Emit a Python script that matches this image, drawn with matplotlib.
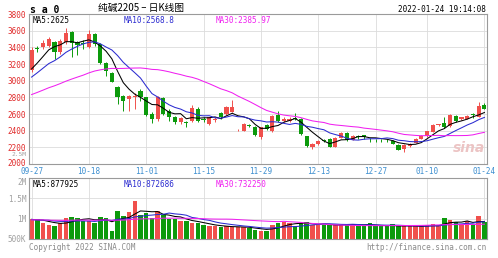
import numpy as np
import pandas as pd
import matplotlib
matplotlib.use("Agg")
import matplotlib.pyplot as plt
from matplotlib.transforms import ScaledTranslation

# daily candles 2021-09-27 .. 2022-01-24
opens = [3130, 3395, 3400, 3420, 3460, 3340, 3460, 3580, 3470, 3450,
         3410, 3560, 3440, 3210, 3090, 2930, 2820, 2785, 2800, 2880,
         2800, 2600, 2545, 2790, 2640, 2560, 2500, 2505, 2520, 2665,
         2540, 2480, 2530, 2610, 2605, 2630, 2405, 2400, 2465, 2445,
         2320, 2470, 2400, 2590, 2520, 2520, 2550, 2545, 2335, 2205,
         2240, 2290, 2302, 2205, 2315, 2375, 2290, 2340, 2345, 2300,
         2290, 2300, 2290, 2280, 2230, 2180, 2215, 2257, 2305, 2338,
         2390, 2465, 2487, 2451, 2580, 2540, 2545, 2600, 2568, 2713]
closes = [3370, 3380, 3450, 3500, 3340, 3480, 3570, 3450, 3430, 3440,
          3560, 3440, 3210, 3115, 2990, 2810, 2755, 2820, 2815, 2800,
          2590, 2545, 2800, 2605, 2560, 2500, 2555, 2495, 2675, 2520,
          2525, 2560, 2545, 2570, 2690, 2680, 2410, 2480, 2455, 2350,
          2440, 2420, 2580, 2520, 2545, 2545, 2540, 2360, 2215, 2245,
          2278, 2280, 2205, 2318, 2367, 2290, 2340, 2330, 2320, 2295,
          2285, 2295, 2288, 2240, 2170, 2230, 2240, 2305, 2340, 2398,
          2471, 2475, 2440, 2592, 2520, 2560, 2580, 2585, 2700, 2665]
highs = [3400, 3420, 3490, 3520, 3480, 3500, 3630, 3600, 3480, 3490,
         3610, 3570, 3450, 3230, 3100, 2940, 2830, 2830, 2850, 2900,
         2810, 2620, 2820, 2800, 2660, 2580, 2570, 2520, 2710, 2680,
         2570, 2570, 2570, 2620, 2700, 2770, 2420, 2490, 2480, 2455,
         2450, 2480, 2590, 2640, 2560, 2570, 2610, 2550, 2340, 2255,
         2290, 2300, 2310, 2325, 2380, 2385, 2350, 2350, 2350, 2310,
         2300, 2305, 2300, 2285, 2235, 2235, 2250, 2310, 2345, 2400,
         2480, 2485, 2570, 2600, 2590, 2570, 2590, 2610, 2740, 2730]
lows = [3100, 3350, 3380, 3400, 3260, 3320, 3440, 3290, 3310, 3380,
        3390, 3420, 3200, 3060, 2980, 2720, 2640, 2640, 2660, 2760,
        2580, 2490, 2520, 2590, 2520, 2480, 2480, 2450, 2510, 2500,
        2500, 2470, 2510, 2540, 2590, 2620, 2400, 2395, 2440, 2340,
        2300, 2410, 2390, 2510, 2500, 2505, 2530, 2350, 2210, 2180,
        2230, 2270, 2200, 2200, 2310, 2280, 2285, 2300, 2300, 2270,
        2260, 2270, 2270, 2235, 2165, 2150, 2210, 2250, 2300, 2330,
        2385, 2455, 2435, 2445, 2510, 2530, 2540, 2555, 2560, 2655]
volumes = [984000, 984000, 886000, 844000, 820000, 886000, 1024000, 1048000, 1016000, 950000,
           950000, 900000, 1048000, 1024000, 704000, 1188000, 1065000, 1164000, 1442000, 1090000,
           1147000, 1008000, 1188000, 1090000, 1000000, 984000, 950000, 950000, 886000, 886000,
           844000, 810000, 810000, 795000, 820000, 787000, 787000, 787000, 763000, 721000,
           704000, 704000, 844000, 900000, 925000, 900000, 810000, 900000, 925000, 844000,
           844000, 844000, 844000, 844000, 844000, 869000, 869000, 830000, 830000, 886000,
           810000, 810000, 810000, 860000, 810000, 810000, 810000, 810000, 810000, 844000,
           860000, 810000, 1024000, 967000, 908000, 869000, 950000, 844000, 1065000, 925000]

# closes / volumes before 09-27, only used to start the moving averages
pre_closes = [2600, 2620, 2650, 2640, 2680, 2700, 2690, 2720, 2750, 2740,
              2770, 2780, 2790, 2800, 2850, 2720, 2740, 2760, 2770, 2790,
              2860, 2900, 2950, 2990, 3030, 3020, 3060, 3100, 3150]
pre_volumes = [920000, 980000, 1010000, 890000, 950000, 1050000, 930000, 870000, 990000, 1020000,
               960000, 900000, 940000, 1000000, 1080000, 970000, 910000, 1030000, 950000, 990000,
               1060000, 920000, 880000, 1010000, 970000, 1040000, 930000, 1000000, 960000]

date_idx = [0, 10, 20, 30, 40, 50, 60, 69, 79]
date_labels = ["09-27", "10-18", "11-01", "11-15", "11-29", "12-13", "12-27", "01-10", "01-24"]
price_ticks = [2000, 2200, 2400, 2600, 2800, 3000, 3200, 3400, 3600, 3800]
vol_ticks = [500000, 1000000, 1500000, 2000000]
vol_tick_labels = ["500K", "1M", "1.5M", "2M"]

RED = "#f0504c"
GREEN = "#0c9a0c"
MA_COLORS = {5: "#000000", 10: "#2b2bd0", 30: "#f020f0"}
MONO = "DejaVu Sans Mono"
FS = 5.5

n = len(closes)
x = np.arange(n)
close_s = pd.Series(pre_closes + closes)
vol_s = pd.Series(pre_volumes + volumes)
k = len(pre_closes)

fig = plt.figure(figsize=(4.98, 2.58), dpi=100)
W, H = 498.0, 258.0
ax_p = fig.add_axes([29 / W, 1 - 164 / H, 458 / W, 150 / H])
ax_v = fig.add_axes([29 / W, 1 - 239 / H, 458 / W, 61 / H])


def nudge(label, dy_pt):
    label.set_transform(label.get_transform() + ScaledTranslation(0, dy_pt / 72, fig.dpi_scale_trans))


for ax in (ax_p, ax_v):
    ax.set_xlim(-0.45, n - 0.55)
    for s in ax.spines.values():
        s.set_color("#9a9a9a")
        s.set_linewidth(0.8)
    ax.tick_params(length=0, pad=2)
    for i in date_idx:
        ax.axvline(i, color="#dcdcdc", lw=0.6, zorder=0)

# price panel
for p in price_ticks:
    ax_p.axhline(p, color="#dcdcdc", lw=0.6, zorder=0)
for i in range(n):
    up = closes[i] >= opens[i]
    c = RED if up else GREEN
    ax_p.vlines(x[i], lows[i], highs[i], color=c, lw=0.7, zorder=2)
    lo, hi = min(opens[i], closes[i]), max(opens[i], closes[i])
    ax_p.bar(x[i], max(hi - lo, 6), bottom=lo, width=0.72, color=c, zorder=3, linewidth=0)
for m, col in MA_COLORS.items():
    ma = close_s.rolling(m).mean().values[k:]
    ax_p.plot(x, ma, color=col, lw=0.75, zorder=4)

ax_p.set_ylim(2000, 3800)
ax_p.set_yticks(price_ticks)
ax_p.set_yticklabels([str(p) for p in price_ticks], color="#e02828", fontsize=FS, family=MONO)
nudge(ax_p.get_yticklabels()[0], 1.0)
ax_p.set_xticks(date_idx)
ax_p.set_xticklabels(date_labels, color="#3d8fd0", fontsize=FS, family=MONO)
ax_p.tick_params(axis="x", pad=2.5)
ax_p.text(0.008, 0.985, "MA5:2625", transform=ax_p.transAxes, fontsize=FS, family=MONO,
          color=MA_COLORS[5], va="top")
ax_p.text(0.207, 0.985, "MA10:2568.8", transform=ax_p.transAxes, fontsize=FS, family=MONO,
          color=MA_COLORS[10], va="top")
ax_p.text(0.408, 0.985, "MA30:2385.97", transform=ax_p.transAxes, fontsize=FS, family=MONO,
          color=MA_COLORS[30], va="top")
ax_p.text(0.995, 0.06, "sina", transform=ax_p.transAxes, fontsize=10, style="italic",
          weight="bold", color="#ecc4c4", ha="right", va="bottom", zorder=1)

# volume panel
vol_cols = [RED if closes[i] >= opens[i] else GREEN for i in range(n)]
for v in vol_ticks:
    ax_v.axhline(v, color="#dcdcdc", lw=0.6, zorder=0)
ax_v.bar(x, volumes, width=0.78, color=vol_cols, linewidth=0, zorder=2)
for m, col in MA_COLORS.items():
    ma = vol_s.rolling(m).mean().values[k:]
    ax_v.plot(x, ma, color=col, lw=0.75, zorder=4)
ax_v.set_ylim(500000, 2000000)
ax_v.set_yticks(vol_ticks)
ax_v.set_yticklabels(vol_tick_labels, color="#a0a0a0", fontsize=FS, family=MONO)
ax_v.set_xticks([])
nudge(ax_v.get_yticklabels()[-1], -2.5)
ax_v.text(-0.005, 2570000, "2.5M", transform=ax_v.get_yaxis_transform(), fontsize=4.5,
          family=MONO, color="#a0a0a0", ha="right", va="center", clip_on=False)
ax_v.text(0.008, 0.97, "MA5:877925", transform=ax_v.transAxes, fontsize=FS, family=MONO,
          color=MA_COLORS[5], va="top")
ax_v.text(0.207, 0.97, "MA10:872686", transform=ax_v.transAxes, fontsize=FS, family=MONO,
          color=MA_COLORS[10], va="top")
ax_v.text(0.408, 0.97, "MA30:732250", transform=ax_v.transAxes, fontsize=FS, family=MONO,
          color=MA_COLORS[30], va="top")

# header / footer
fig.text(30 / W, 1 - 10 / H, "s a 0", fontsize=7, family=MONO, weight="bold", va="center")
fig.text(98 / W, 1 - 8 / H, "纯碱2205 – 日K线图", fontsize=7,
         family=["Noto Sans CJK SC", "DejaVu Sans"], va="center")
fig.text(486 / W, 1 - 9 / H, "2022-01-24 19:14:08", fontsize=FS, family=MONO,
         ha="right", va="center")
fig.text(29 / W, 1 - 248 / H, "Copyright 2022 SINA.COM", fontsize=FS, family=MONO,
         color="#8a8a8a", va="center")
fig.text(486 / W, 1 - 248 / H, "http://finance.sina.com.cn", fontsize=FS, family=MONO,
         color="#8a8a8a", ha="right", va="center")

fig.savefig("out.png", dpi=100)
